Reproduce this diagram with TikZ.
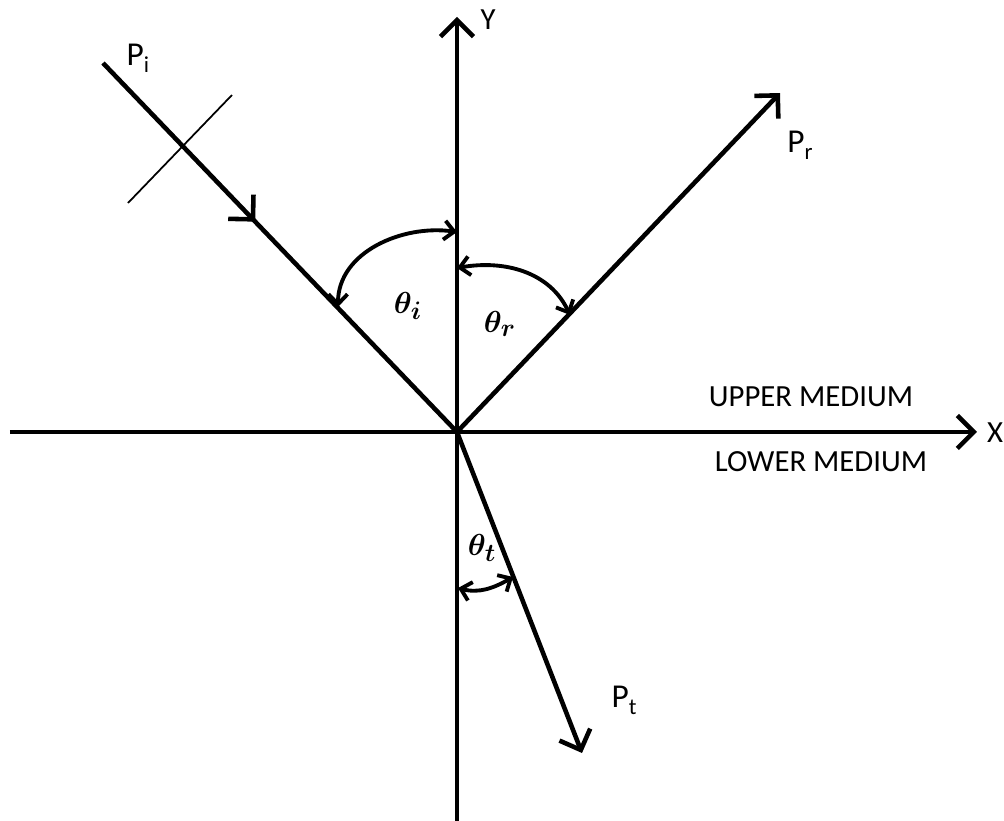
\documentclass[tikz,border=0pt]{standalone}
\usepackage{fontspec}
\setmainfont{Carlito}
\usetikzlibrary{arrows.meta,decorations.markings}
\newcommand{\lowidx}[1]{\raisebox{-0.45ex}{\fontsize{13}{14}\selectfont #1}}

\begin{document}
\begin{tikzpicture}[
  ray/.style={line width=2.6pt},
  barb/.style={-{Straight Barb[length=0.33cm, width=0.66cm]}},
  anglearc/.style={line width=2.2pt, {Straight Barb[length=0.2cm, width=0.38cm]}-{Straight Barb[length=0.2cm, width=0.38cm]}},
  lbl/.style={font=\fontsize{17.5}{20}\selectfont, inner sep=0pt},
  anglbl/.style={font=\fontsize{19}{22}\selectfont\boldmath, inner sep=0pt}
]
\useasboundingbox (-9.14,-7.78) rectangle (10.94,8.64);

% Origin, axes ends and ray ends
\coordinate (O) at (0,0);
\coordinate (ybot) at (0,-7.78);
\coordinate (ytop) at (0,8.3);
\coordinate (xleft) at (-8.94,0);
\coordinate (xright) at (10.4,0);
\coordinate (inc) at (-7.08,7.38);
\coordinate (refl) at (6.46,6.78);
\coordinate (trans) at (2.5,-6.42);

% Axes
\draw[ray, barb] (ybot) -- (ytop);
\draw[ray, barb] (xleft) -- (xright);
\node[lbl] (ylabel) at (0.62,8.24) {Y};
\node[lbl] (xlabel) at (10.76,-0.02) {X};

% Media
\node[lbl] (upper) at (7.08,0.70) {UPPER MEDIUM};
\node[lbl] (lower) at (7.28,-0.60) {LOWER MEDIUM};

% Incident ray with its wavefront mark
\draw[ray, postaction={decorate}, decoration={markings,
  mark=at position 0.43 with {\arrow{Straight Barb[length=0.35cm, width=0.7cm]}}}] (inc) -- (O);
\coordinate (frontA) at (-6.58,4.58);
\coordinate (frontB) at (-4.5,6.74);
\draw[line width=1pt] (frontA) -- (frontB);
\node[lbl, font=\fontsize{19}{22}\selectfont] (pi) at (-6.38,7.48) {P\lowidx{i}};

% Reflected ray
\draw[ray, barb] (O) -- (refl);
\node[lbl, font=\fontsize{19}{22}\selectfont] (pr) at (6.86,5.74) {P\lowidx{r}};

% Transmitted ray
\draw[ray, barb] (O) -- (trans);
\node[lbl, font=\fontsize{19}{22}\selectfont] (pt) at (3.34,-5.36) {P\lowidx{t}};

% Angles
\coordinate (ai1) at (0,4.0);
\coordinate (ai2) at (-2.38,2.5);
\draw[anglearc] (ai1) to[out=172, in=90] (ai2);
\node[anglbl] (thi) at (-0.98,2.52) {$\theta_i$};

\coordinate (ar1) at (0,3.28);
\coordinate (ar2) at (2.26,2.34);
\draw[anglearc] (ar1) to[out=10, in=115] (ar2);
\node[anglbl] (thr) at (0.86,2.16) {$\theta_r$};

\coordinate (at1) at (0.02,-3.12);
\coordinate (at2) at (1.12,-2.9);
\draw[anglearc] (at1) to[out=-15, in=-150] (at2);
\node[anglbl] (tht) at (0.5,-2.32) {$\theta_t$};
\end{tikzpicture}
\end{document}
